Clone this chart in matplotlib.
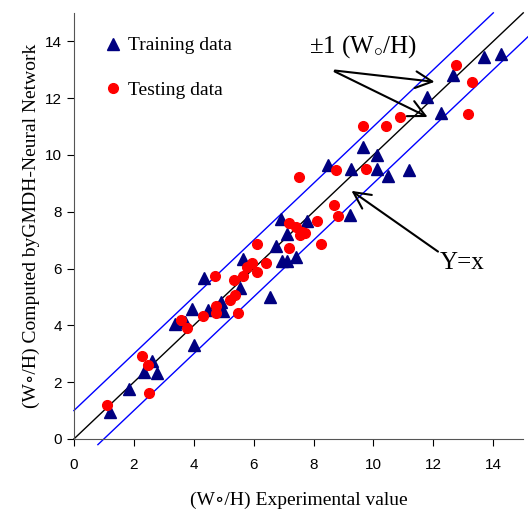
import matplotlib
matplotlib.use("Agg")
import matplotlib.pyplot as plt

# training data (experimental, GMDH-NN)
train_x = [1.20, 1.84, 2.34, 2.61, 2.77, 3.37, 3.71, 3.94, 4.01, 4.34, 4.48, 4.91,
           4.98, 5.55, 5.65, 6.55, 6.95, 7.12, 7.42, 6.75, 6.92, 7.12, 7.78, 8.49,
           9.25, 9.22, 9.66, 10.12, 10.12, 10.49, 11.19, 11.79, 12.26, 12.66, 13.70, 14.27]
train_y = [0.95, 1.76, 2.36, 2.74, 2.32, 4.05, 4.12, 4.57, 3.31, 5.66, 4.54, 4.82,
           4.50, 5.31, 6.33, 4.99, 6.26, 6.26, 6.40, 6.79, 7.74, 7.21, 7.67, 9.64,
           9.50, 7.88, 10.27, 9.99, 9.50, 9.25, 9.46, 12.03, 11.47, 12.80, 13.44, 13.54]

# testing data
test_x = [1.10, 2.27, 2.47, 2.51, 3.58, 3.78, 4.31, 4.71, 4.74, 4.74, 5.21, 5.35, 5.38,
          5.48, 5.65, 5.78, 5.95, 6.11, 6.41, 6.11, 7.18, 7.18, 7.42, 7.62, 7.72, 7.55,
          8.12, 8.25, 7.52, 8.69, 8.82, 8.75, 9.76, 9.66, 10.42, 10.89, 12.76, 13.30, 13.16]
test_y = [1.20, 2.92, 2.60, 1.62, 4.19, 3.90, 4.33, 5.73, 4.68, 4.43, 4.89, 5.59, 5.07,
          4.43, 5.73, 6.05, 6.19, 5.87, 6.19, 6.86, 6.72, 7.60, 7.46, 7.28, 7.25, 7.18,
          7.67, 6.86, 9.22, 8.23, 7.84, 9.46, 9.50, 11.01, 11.01, 11.33, 13.16, 12.56, 11.43]

serif = ["Liberation Serif", "DejaVu Serif"]
plt.rcParams["font.family"] = ["Liberation Sans", "DejaVu Sans"]
plt.rcParams["mathtext.fontset"] = "custom"
plt.rcParams["mathtext.rm"] = "Liberation Serif"
plt.rcParams["mathtext.it"] = "Liberation Serif"

fig = plt.figure(figsize=(5.28, 5.14), dpi=100)
ax = fig.add_axes([0.140, 0.146, 0.851, 0.829])

# y = x and +/-1 band
ax.plot([0, 15], [0, 15], color="black", lw=1, clip_on=False, zorder=1)
ax.plot([0, 14], [1, 15], color="blue", lw=1, clip_on=False, zorder=1)
ax.plot([0.8, 15.2], [-0.2, 14.2], color="blue", lw=1, clip_on=False, zorder=1)

ax.plot(train_x, train_y, "^", color="#000080", ms=8, ls="none", label="Training data", zorder=3)
ax.plot(test_x, test_y, "o", color="red", ms=7, ls="none", label="Testing data", zorder=3)

ax.set_xlim(0, 15)
ax.set_ylim(0, 15)
ax.set_xticks(range(0, 15, 2))
ax.set_yticks(range(0, 15, 2))
ax.tick_params(direction="out", length=5, labelsize=11, colors="black")
ax.tick_params(axis="x", pad=9)
for s in ["top", "right"]:
    ax.spines[s].set_visible(False)
for s in ["left", "bottom"]:
    ax.spines[s].set_color("#555555")

ax.set_xlabel("(W\u2218/H) Experimental value", fontsize=14, family=serif, labelpad=14)
ax.set_ylabel("(W\u2218/H) Computed byGMDH-Neural Network", fontsize=14, family=serif, labelpad=4)

leg = ax.legend(loc="upper left", bbox_to_anchor=(0.03, 0.985), frameon=False,
                labelspacing=1.4, handlelength=0.8, handletextpad=0.4,
                prop={"family": serif, "size": 14})

arrow = dict(arrowstyle="->", color="black", lw=1.5, mutation_scale=30)
ax.annotate("", xy=(12.13, 12.56), xytext=(8.62, 12.98), arrowprops=arrow)
ax.annotate("", xy=(11.89, 11.29), xytext=(8.62, 12.98), arrowprops=arrow)
ax.text(7.85, 13.8, r"$\pm$1 (W$_{\circ}$/H)", fontsize=18, family=serif, va="center")

ax.annotate("", xy=(9.19, 8.79), xytext=(12.23, 6.54), arrowprops=arrow)
ax.text(12.2, 6.2, "Y=x", fontsize=18, family=serif, va="center")

fig.savefig("out.png", dpi=100)
